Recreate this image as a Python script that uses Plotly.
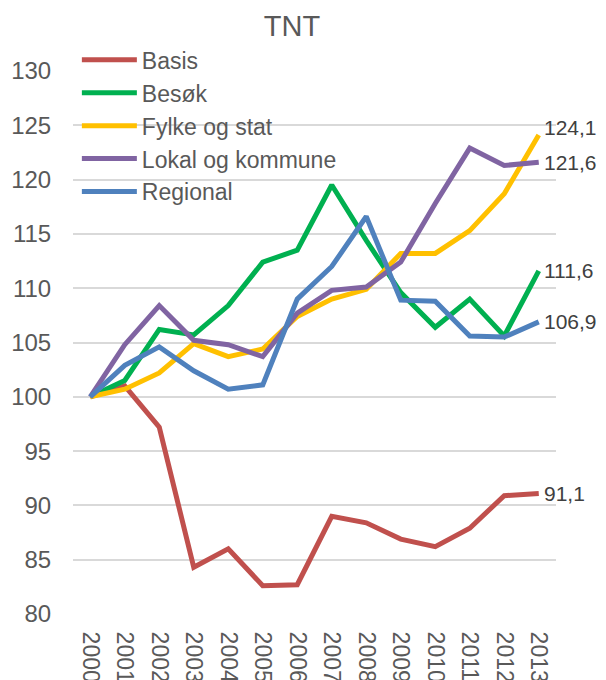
import plotly.graph_objects as go

years = [str(y) for y in range(2000, 2014)]
basis = [100, 101.0, 97.2, 84.3, 86.0, 82.6, 82.7, 89.0, 88.4, 86.9, 86.2, 87.9, 90.9, 91.1]
besok = [100, 101.5, 106.2, 105.7, 108.4, 112.4, 113.5, 119.5, 114.4, 109.6, 106.4, 109.0, 105.6, 111.6]
fylke = [100, 100.7, 102.2, 104.9, 103.7, 104.4, 107.4, 109.0, 109.9, 113.2, 113.2, 115.3, 118.7, 124.1]
lokal = [100, 104.8, 108.4, 105.2, 104.8, 103.7, 107.7, 109.8, 110.1, 112.4, 117.8, 122.9, 121.3, 121.6]
regional = [100, 102.9, 104.6, 102.4, 100.7, 101.1, 109.0, 112.0, 116.6, 108.9, 108.8, 105.6, 105.5, 106.9]

series = [
    ("Basis", basis, "#C0504D", 0),
    ("Besøk", besok, "#00B050", 0),
    ("Fylke og stat", fylke, "#FFC000", 8),
    ("Lokal og kommune", lokal, "#8064A2", 0),
    ("Regional", regional, "#4F81BD", 0),
]

FONT = "Liberation Sans, Arial, sans-serif"
W, H = 598, 672  # page body adds an 8px offset

fig = go.Figure()
for i, (name, vals, color, ys) in enumerate(series):
    fig.add_trace(go.Scatter(
        x=years, y=vals, name=name, mode="lines",
        line=dict(color=color, width=5),
        cliponaxis=False, legendgroup=f"g{i}",
    ))
    fig.add_annotation(
        x=len(vals) - 1, y=vals[-1], text=f"{vals[-1]:.1f}".replace(".", ","),
        showarrow=False, xanchor="left", yanchor="middle", xshift=3, yshift=ys,
        font=dict(family=FONT, size=21, color="#404040"),
    )

fig.update_layout(
    width=W, height=H,
    margin=dict(l=65, r=50, t=63, b=66, autoexpand=False),
    paper_bgcolor="white", plot_bgcolor="white",
    font=dict(family=FONT, size=23, color="#595959"),
    title=dict(text="TNT", x=284 / W, xanchor="center", y=1 - 8 / H, yanchor="top",
               font=dict(size=29, color="#595959")),
    showlegend=True,
    legend=dict(x=0.008, y=1.060, xanchor="left", yanchor="top",
                bgcolor="rgba(0,0,0,0)", font=dict(size=23, color="#595959"),
                tracegroupgap=0, itemwidth=55),
    xaxis=dict(type="category", range=[-0.5, 13.5], tickangle=90,
               showgrid=False, showline=False, zeroline=False,
               ticks="outside", ticklen=12, tickcolor="rgba(0,0,0,0)",
               tickfont=dict(size=23, color="#595959")),
    yaxis=dict(range=[80, 130], dtick=5, showgrid=True, gridcolor="#D9D9D9",
               gridwidth=1.5, zeroline=False, showline=False,
               ticks="outside", ticklen=16, tickcolor="rgba(0,0,0,0)",
               tickfont=dict(size=24, color="#595959")),
)

fig.write_html("out.html")
